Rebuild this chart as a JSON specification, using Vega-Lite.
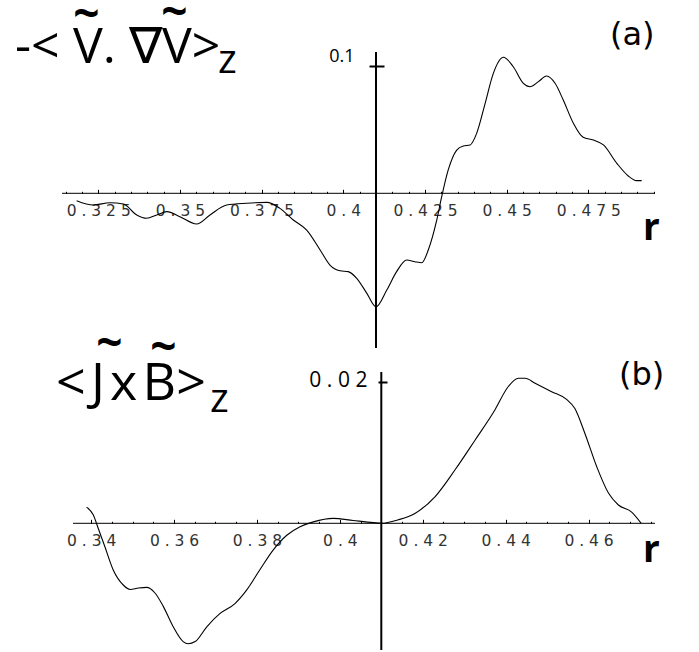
{
  "$schema": "https://vega.github.io/schema/vega-lite/v6.json",
  "width": 699,
  "height": 652,
  "autosize": {"type": "none"},
  "padding": 0,
  "background": "white",
  "config": {"view": {"stroke": null}, "axis": {"grid": false}},
  "datasets": {
    "a": [{"r":0.3184,"v":-0.0058},{"r":0.3235,"v":-0.0092},{"r":0.3286,"v":-0.0074},{"r":0.3327,"v":-0.0084},{"r":0.3368,"v":-0.0170},{"r":0.3398,"v":-0.0196},{"r":0.3429,"v":-0.0170},{"r":0.3460,"v":-0.0144},{"r":0.3500,"v":-0.0183},{"r":0.3551,"v":-0.0241},{"r":0.3592,"v":-0.0170},{"r":0.3643,"v":-0.0092},{"r":0.3704,"v":-0.0078},{"r":0.3766,"v":-0.0071},{"r":0.3806,"v":-0.0118},{"r":0.3847,"v":-0.0209},{"r":0.3888,"v":-0.0288},{"r":0.3929,"v":-0.0444},{"r":0.3959,"v":-0.0562},{"r":0.3990,"v":-0.0607},{"r":0.4015,"v":-0.0614},{"r":0.4041,"v":-0.0666},{"r":0.4072,"v":-0.0784},{"r":0.4100,"v":-0.0889},{"r":0.4133,"v":-0.0758},{"r":0.4163,"v":-0.0614},{"r":0.4194,"v":-0.0523},{"r":0.4219,"v":-0.0536},{"r":0.4240,"v":-0.0544},{"r":0.4260,"v":-0.0444},{"r":0.4286,"v":-0.0209},{"r":0.4301,"v":-0.0027},{"r":0.4321,"v":0.0183},{"r":0.4347,"v":0.0339},{"r":0.4367,"v":0.0371},{"r":0.4388,"v":0.0379},{"r":0.4408,"v":0.0470},{"r":0.4434,"v":0.0705},{"r":0.4459,"v":0.0940},{"r":0.4490,"v":0.1066},{"r":0.4520,"v":0.0992},{"r":0.4551,"v":0.0862},{"r":0.4571,"v":0.0835},{"r":0.4597,"v":0.0875},{"r":0.4622,"v":0.0919},{"r":0.4648,"v":0.0862},{"r":0.4673,"v":0.0731},{"r":0.4704,"v":0.0549},{"r":0.4734,"v":0.0439},{"r":0.4765,"v":0.0418},{"r":0.4796,"v":0.0379},{"r":0.4837,"v":0.0235},{"r":0.4872,"v":0.0136},{"r":0.4898,"v":0.0099},{"r":0.4913,"v":0.0099}],
    "b": [{"r":0.3389,"v":0.0023},{"r":0.3405,"v":0.0012},{"r":0.3417,"v":-0.0007},{"r":0.3433,"v":-0.0033},{"r":0.3453,"v":-0.0066},{"r":0.3478,"v":-0.0088},{"r":0.3494,"v":-0.0094},{"r":0.3514,"v":-0.0092},{"r":0.3534,"v":-0.0091},{"r":0.3554,"v":-0.0099},{"r":0.3574,"v":-0.0118},{"r":0.3598,"v":-0.0147},{"r":0.3622,"v":-0.0168},{"r":0.3634,"v":-0.0171},{"r":0.3651,"v":-0.0168},{"r":0.3679,"v":-0.0147},{"r":0.3711,"v":-0.0128},{"r":0.3747,"v":-0.0114},{"r":0.3775,"v":-0.0095},{"r":0.3807,"v":-0.0066},{"r":0.3839,"v":-0.0038},{"r":0.3872,"v":-0.0017},{"r":0.3904,"v":-0.0005},{"r":0.3936,"v":0.0002},{"r":0.3984,"v":0.0007},{"r":0.4032,"v":0.0004},{"r":0.4081,"v":0.0001},{"r":0.4100,"v":0.0},{"r":0.4141,"v":0.0005},{"r":0.4181,"v":0.0014},{"r":0.4230,"v":0.0038},{"r":0.4278,"v":0.0076},{"r":0.4326,"v":0.0118},{"r":0.4374,"v":0.0161},{"r":0.4406,"v":0.0194},{"r":0.4431,"v":0.0206},{"r":0.4447,"v":0.0206},{"r":0.4471,"v":0.0199},{"r":0.4511,"v":0.0187},{"r":0.4547,"v":0.0176},{"r":0.4567,"v":0.0163},{"r":0.4591,"v":0.0128},{"r":0.4620,"v":0.0080},{"r":0.4648,"v":0.0043},{"r":0.4672,"v":0.0026},{"r":0.4704,"v":0.0016},{"r":0.4727,"v":0.0}]
  },
  "layer": [
    {
      "data": {"name": "a"},
      "mark": {"type": "line", "interpolate": "monotone", "color": "black", "strokeWidth": 1.1},
      "encoding": {
        "x": {"field": "r", "type": "quantitative",
          "scale": {"domain": [0.294945, 0.508837], "nice": false, "zero": false},
          "axis": {"orient": "bottom", "offset": -458.7, "domain": false, "title": null, "grid": false,
            "values": [0.315,0.32,0.325,0.33,0.335,0.34,0.345,0.35,0.355,0.36,0.365,0.37,0.375,0.38,0.385,0.39,0.395,0.4,0.405,0.41,0.415,0.42,0.425,0.43,0.435,0.44,0.445,0.45,0.455,0.46,0.465,0.47,0.475,0.48,0.485,0.49,0.495],
            "tickColor": "black", "tickWidth": 1,
            "tickSize": {"condition": {"test": "abs(datum.value*40-round(datum.value*40))<0.001", "value": -4}, "value": -2},
            "labelExpr": "abs(datum.value*40-round(datum.value*40))<0.001 ? join(split(format(datum.value,'.3~f'),''),' ') : ''",
            "labelFont": "DejaVu Sans", "labelFontSize": 15.5, "labelColor": "#333", "labelPadding": 14,
            "labelBaseline": "top", "labelOverlap": false, "labelFlush": false}},
        "y": {"field": "v", "type": "quantitative",
          "scale": {"domain": [-0.359483, 0.151489], "nice": false, "zero": false},
          "axis": {"orient": "left", "offset": -384, "domain": false, "title": null, "grid": false,
            "values": [0.1], "format": ".1f", "tickSize": 15, "tickColor": "black", "tickWidth": 2,
            "labelFont": "Open Sans", "labelFontSize": 18, "labelColor": "black", "labelPadding": 15, "labelOffset": -9}}
      }
    },
    {
      "data": {"values": [{}]},
      "mark": {"type": "rule", "color": "black", "strokeWidth": 1},
      "encoding": {
        "x": {"datum": 0.313917, "type": "quantitative", "scale": {"domain": [0.294945, 0.508837], "nice": false, "zero": false}, "axis": null},
        "x2": {"datum": 0.495373},
        "y": {"datum": 0, "type": "quantitative", "scale": {"domain": [-0.359483, 0.151489], "nice": false, "zero": false}, "axis": null}
      }
    },
    {
      "data": {"values": [{}]},
      "mark": {"type": "rule", "color": "black", "strokeWidth": 2},
      "encoding": {
        "x": {"datum": 0.41, "type": "quantitative", "scale": {"domain": [0.294945, 0.508837], "nice": false, "zero": false}, "axis": null},
        "y": {"datum": 0.110737, "type": "quantitative", "scale": {"domain": [-0.359483, 0.151489], "nice": false, "zero": false}, "axis": null},
        "y2": {"datum": -0.121238}
      }
    },
    {
      "data": {"values": [{}]},
      "mark": {"type": "text", "align": "left", "baseline": "alphabetic", "font": "Open Sans", "fontSize": 50, "color": "black"},
      "encoding": {
        "x": {"datum": 0.299535, "type": "quantitative", "scale": {"domain": [0.294945, 0.508837], "nice": false, "zero": false}, "axis": null},
        "y": {"datum": 0.101881, "type": "quantitative", "scale": {"domain": [-0.359483, 0.151489], "nice": false, "zero": false}, "axis": null},
        "text": {"value": "-<\u2009\u200aV. ∇V>"}
      }
    },
    {
      "data": {"values": [{}]},
      "mark": {"type": "text", "align": "left", "baseline": "alphabetic", "font": "Open Sans", "fontSize": 40, "color": "black"},
      "encoding": {
        "x": {"datum": 0.361652, "type": "quantitative", "scale": {"domain": [0.294945, 0.508837], "nice": false, "zero": false}, "axis": null},
        "y": {"datum": 0.094279, "type": "quantitative", "scale": {"domain": [-0.359483, 0.151489], "nice": false, "zero": false}, "axis": null},
        "text": {"value": "z"}
      }
    },
    {
      "data": {"values": [{"s": "~", "r": 0.321414, "v": 0.13895}, {"s": "~", "r": 0.348342, "v": 0.140909}]},
      "mark": {"type": "text", "align": "center", "baseline": "middle", "font": "Open Sans", "fontSize": 46, "fontWeight": "bold", "color": "black"},
      "encoding": {
        "x": {"field": "r", "type": "quantitative", "scale": {"domain": [0.294945, 0.508837], "nice": false, "zero": false}, "axis": null},
        "y": {"field": "v", "type": "quantitative", "scale": {"domain": [-0.359483, 0.151489], "nice": false, "zero": false}, "axis": null},
        "text": {"field": "s"}
      }
    },
    {
      "data": {"values": [{}]},
      "mark": {"type": "text", "align": "left", "baseline": "alphabetic", "font": "DejaVu Sans", "fontSize": 32, "color": "black"},
      "encoding": {
        "x": {"datum": 0.481604, "type": "quantitative", "scale": {"domain": [0.294945, 0.508837], "nice": false, "zero": false}, "axis": null},
        "y": {"datum": 0.116223, "type": "quantitative", "scale": {"domain": [-0.359483, 0.151489], "nice": false, "zero": false}, "axis": null},
        "text": {"value": "(a)"}
      }
    },
    {
      "data": {"values": [{}]},
      "mark": {"type": "text", "align": "left", "baseline": "alphabetic", "font": "Open Sans", "fontSize": 37, "fontWeight": "bold", "color": "black"},
      "encoding": {
        "x": {"datum": 0.491701, "type": "quantitative", "scale": {"domain": [0.294945, 0.508837], "nice": false, "zero": false}, "axis": null},
        "y": {"datum": -0.036599, "type": "quantitative", "scale": {"domain": [-0.359483, 0.151489], "nice": false, "zero": false}, "axis": null},
        "text": {"value": "r"}
      }
    },
    {
      "data": {"name": "b"},
      "mark": {"type": "line", "interpolate": "monotone", "color": "black", "strokeWidth": 1.1},
      "encoding": {
        "x": {"field": "r", "type": "quantitative",
          "scale": {"domain": [0.31801, 0.486646], "nice": false, "zero": false},
          "axis": {"orient": "bottom", "offset": -128.7, "domain": false, "title": null, "grid": false,
            "values": [0.34,0.345,0.35,0.355,0.36,0.365,0.37,0.375,0.38,0.385,0.39,0.395,0.4,0.405,0.41,0.415,0.42,0.425,0.43,0.435,0.44,0.445,0.45,0.455,0.46,0.465,0.47,0.475],
            "tickColor": "black", "tickWidth": 1,
            "tickSize": {"condition": {"test": "abs(datum.value*50-round(datum.value*50))<0.001", "value": -4}, "value": -2},
            "labelExpr": "abs(datum.value*50-round(datum.value*50))<0.001 ? join(split(format(datum.value,'.2~f'),''),' ') : ''",
            "labelFont": "DejaVu Sans", "labelFontSize": 15.5, "labelColor": "#333", "labelPadding": 14.5,
            "labelBaseline": "top", "labelOverlap": false, "labelFlush": false}},
        "y": {"field": "v", "type": "quantitative",
          "scale": {"domain": [-0.018281, 0.074332], "nice": false, "zero": false},
          "axis": {"orient": "left", "offset": -387, "domain": false, "title": null, "grid": false,
            "values": [0.02], "tickSize": 9, "tickColor": "black", "tickWidth": 2,
            "labelExpr": "join(split(format(datum.value,'.2f'),''),'\u2009\u200a')",
            "labelFont": "Open Sans", "labelFontSize": 21, "labelColor": "black", "labelPadding": 11, "labelOffset": -2}}
      }
    },
    {
      "data": {"values": [{}]},
      "mark": {"type": "rule", "color": "black", "strokeWidth": 1},
      "encoding": {
        "x": {"datum": 0.335621, "type": "quantitative", "scale": {"domain": [0.31801, 0.486646], "nice": false, "zero": false}, "axis": null},
        "x2": {"datum": 0.476031},
        "y": {"datum": 0, "type": "quantitative", "scale": {"domain": [-0.018281, 0.074332], "nice": false, "zero": false}, "axis": null}
      }
    },
    {
      "data": {"values": [{}]},
      "mark": {"type": "rule", "color": "black", "strokeWidth": 2},
      "encoding": {
        "x": {"datum": 0.41, "type": "quantitative", "scale": {"domain": [0.31801, 0.486646], "nice": false, "zero": false}, "axis": null},
        "y": {"datum": 0.021491, "type": "quantitative", "scale": {"domain": [-0.018281, 0.074332], "nice": false, "zero": false}, "axis": null},
        "y2": {"datum": -0.017997}
      }
    },
    {
      "data": {"values": [{}]},
      "mark": {"type": "text", "align": "left", "baseline": "alphabetic", "font": "Open Sans", "fontSize": 52, "color": "black"},
      "encoding": {
        "x": {"datum": 0.331521, "type": "quantitative", "scale": {"domain": [0.31801, 0.486646], "nice": false, "zero": false}, "axis": null},
        "y": {"datum": 0.017514, "type": "quantitative", "scale": {"domain": [-0.018281, 0.074332], "nice": false, "zero": false}, "axis": null},
        "text": {"value": "<\u200aJ\u200ax\u200aB>"}
      }
    },
    {
      "data": {"values": [{}]},
      "mark": {"type": "text", "align": "left", "baseline": "alphabetic", "font": "Open Sans", "fontSize": 40, "color": "black"},
      "encoding": {
        "x": {"datum": 0.368673, "type": "quantitative", "scale": {"domain": [0.31801, 0.486646], "nice": false, "zero": false}, "axis": null},
        "y": {"datum": 0.015809, "type": "quantitative", "scale": {"domain": [-0.018281, 0.074332], "nice": false, "zero": false}, "axis": null},
        "text": {"value": "z"}
      }
    },
    {
      "data": {"values": [{"s": "~", "r": 0.344428, "v": 0.025326}, {"s": "~", "r": 0.357455, "v": 0.024829}]},
      "mark": {"type": "text", "align": "center", "baseline": "middle", "font": "Open Sans", "fontSize": 46, "fontWeight": "bold", "color": "black"},
      "encoding": {
        "x": {"field": "r", "type": "quantitative", "scale": {"domain": [0.31801, 0.486646], "nice": false, "zero": false}, "axis": null},
        "y": {"field": "v", "type": "quantitative", "scale": {"domain": [-0.018281, 0.074332], "nice": false, "zero": false}, "axis": null},
        "text": {"field": "s"}
      }
    },
    {
      "data": {"values": [{}]},
      "mark": {"type": "text", "align": "left", "baseline": "alphabetic", "font": "DejaVu Sans", "fontSize": 32, "color": "black"},
      "encoding": {
        "x": {"datum": 0.467347, "type": "quantitative", "scale": {"domain": [0.31801, 0.486646], "nice": false, "zero": false}, "axis": null},
        "y": {"datum": 0.019644, "type": "quantitative", "scale": {"domain": [-0.018281, 0.074332], "nice": false, "zero": false}, "axis": null},
        "text": {"value": "(b)"}
      }
    },
    {
      "data": {"values": [{}]},
      "mark": {"type": "text", "align": "left", "baseline": "alphabetic", "font": "Open Sans", "fontSize": 37, "fontWeight": "bold", "color": "black"},
      "encoding": {
        "x": {"datum": 0.473137, "type": "quantitative", "scale": {"domain": [0.31801, 0.486646], "nice": false, "zero": false}, "axis": null},
        "y": {"datum": -0.005498, "type": "quantitative", "scale": {"domain": [-0.018281, 0.074332], "nice": false, "zero": false}, "axis": null},
        "text": {"value": "r"}
      }
    }
  ],
  "resolve": {"scale": {"x": "independent", "y": "independent"}}
}
